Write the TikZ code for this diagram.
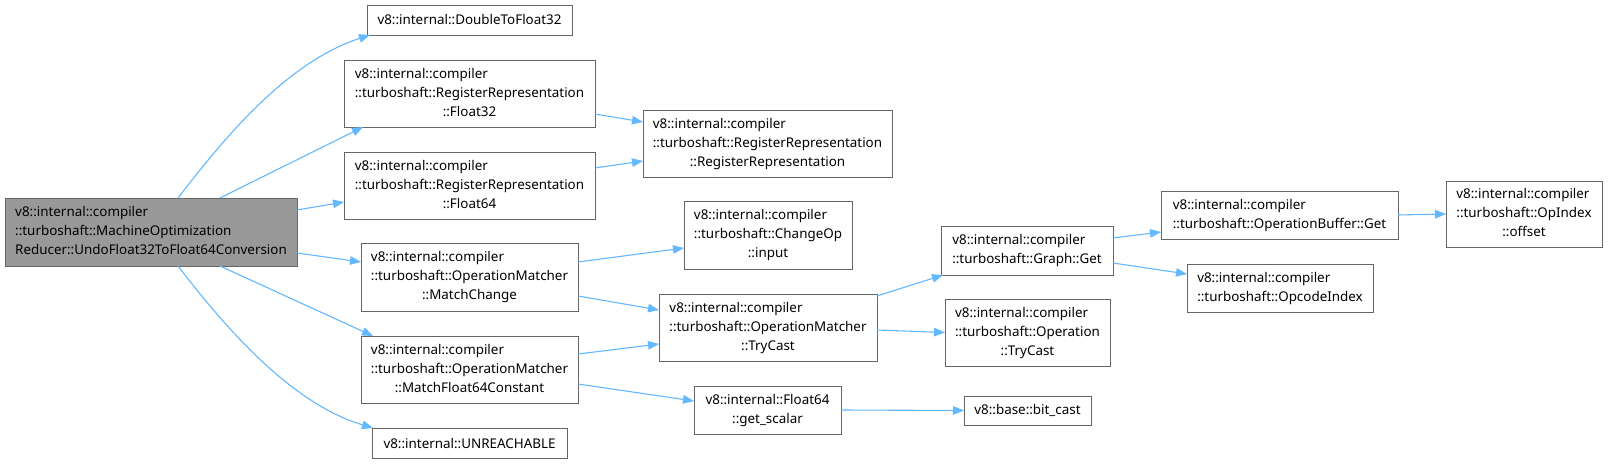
\documentclass[tikz,border=0pt]{standalone}
\usepackage{fontspec}
\setmainfont{Noto Sans}
\usetikzlibrary{arrows.meta,calc}
\definecolor{edgeblue}{HTML}{63B8FF}
\definecolor{boxline}{HTML}{666666}
\definecolor{mainfill}{HTML}{999999}
\newcommand\tlines[1]{\begin{tabular}{@{}l@{}}#1\end{tabular}}
\newcommand\cln[1]{\multicolumn{1}{@{}c@{}}{#1}}
\begin{document}
\begin{tikzpicture}[x=1pt,y=-1pt,
  fn/.style={draw=boxline,line width=1pt,fill=white,rectangle,inner sep=0pt,outer sep=0pt,
    font=\fontsize{13.4}{19}\selectfont,text=black},
  mainbox/.style={fn,fill=mainfill},
  edge/.style={draw=edgeblue,line width=1.1pt,-{Triangle[length=11pt,width=8.5pt]}}]
\useasboundingbox[fill=white] (0,0) rectangle (1608,463);

\node[mainbox,minimum width=292pt,minimum height=68pt] (main) at (151,232)
  {\tlines{v8::internal::compiler\\::turboshaft::MachineOptimization\\Reducer::UndoFloat32ToFloat64Conversion}};
\node[fn,minimum width=205pt,minimum height=30pt] (d2f) at (469.5,20) {v8::internal::DoubleToFloat32};
\node[fn,minimum width=251pt,minimum height=67pt] (f32) at (469.5,93.5)
  {\tlines{v8::internal::compiler\\::turboshaft::RegisterRepresentation\\\cln{::Float32}}};
\node[fn,minimum width=251pt,minimum height=67pt] (f64) at (469.5,185.5)
  {\tlines{v8::internal::compiler\\::turboshaft::RegisterRepresentation\\\cln{::Float64}}};
\node[fn,minimum width=249pt,minimum height=67pt] (rr) at (767.5,143.5)
  {\tlines{v8::internal::compiler\\::turboshaft::RegisterRepresentation\\\cln{::RegisterRepresentation}}};
\node[fn,minimum width=217pt,minimum height=68pt] (mc) at (469.5,277)
  {\tlines{v8::internal::compiler\\::turboshaft::OperationMatcher\\\cln{::MatchChange}}};
\node[fn,minimum width=217pt,minimum height=67pt] (mf) at (469.5,369.5)
  {\tlines{v8::internal::compiler\\::turboshaft::OperationMatcher\\\cln{::MatchFloat64Constant}}};
\node[fn,minimum width=195pt,minimum height=30pt] (un) at (469.5,443) {v8::internal::UNREACHABLE};
\node[fn,minimum width=168pt,minimum height=68pt] (ci) at (768,235)
  {\tlines{v8::internal::compiler\\::turboshaft::ChangeOp\\\cln{::input}}};
\node[fn,minimum width=218pt,minimum height=67pt] (tc) at (768,327.5)
  {\tlines{v8::internal::compiler\\::turboshaft::OperationMatcher\\\cln{::TryCast}}};
\node[fn,minimum width=147pt,minimum height=48pt] (gs) at (767.5,410)
  {\tlines{v8::internal::Float64\\\cln{::get\_scalar}}};
\node[fn,minimum width=172pt,minimum height=49pt] (gg) at (1027,250.5)
  {\tlines{v8::internal::compiler\\::turboshaft::Graph::Get}};
\node[fn,minimum width=165pt,minimum height=67pt] (ot) at (1027.5,333)
  {\tlines{v8::internal::compiler\\::turboshaft::Operation\\\cln{::TryCast}}};
\node[fn,minimum width=127pt,minimum height=29pt] (bc) at (1027.5,410.5) {v8::base::bit\_cast};
\node[fn,minimum width=237pt,minimum height=48pt] (ob) at (1279.5,215)
  {\tlines{v8::internal::compiler\\::turboshaft::OperationBuffer::Get}};
\node[fn,minimum width=186pt,minimum height=48pt] (oi) at (1280,288)
  {\tlines{v8::internal::compiler\\::turboshaft::OpcodeIndex}};
\node[fn,minimum width=156pt,minimum height=66pt] (ox) at (1524,214)
  {\tlines{v8::internal::compiler\\::turboshaft::OpIndex\\\cln{::offset}}};

% edges from main
\draw[edge] ($(main.north west)+(173,0)$) .. controls (225,137) and (287,62) .. ($(d2f.south west)+(3,0)$);
\draw[edge] ($(main.north west)+(215,0)$) -- ($(f32.south west)+(19,0)$);
\draw[edge] ($(main.north east)+(0,12)$) -- ($(f64.north west)+(0,50)$);
\draw[edge] ($(main.north east)+(0,55)$) -- ($(mc.north west)+(0,19)$);
\draw[edge] ($(main.south west)+(215,0)$) -- ($(mf.north west)+(12,0)$);
\draw[edge] ($(main.south west)+(173,0)$) .. controls (225,327) and (290,403) .. ($(un.north west)+(1,0)$);
% second level
\draw[edge] ($(f32.north east)+(0,54)$) -- ($(rr.north west)+(0,12)$);
\draw[edge] ($(f64.north east)+(0,16)$) -- ($(rr.north west)+(0,51)$);
\draw[edge] ($(mc.north east)+(0,19)$) -- ($(ci.north west)+(0,47)$);
\draw[edge] ($(mc.north east)+(0,53)$) -- ($(tc.north west)+(0,16)$);
\draw[edge] ($(mf.north east)+(0,18)$) -- ($(tc.north west)+(0,50)$);
\draw[edge] ($(mf.north east)+(0,48)$) -- ($(gs.north west)+(0,15)$);
% third level
\draw[edge] ($(tc.north east)+(0,2)$) -- ($(gg.south west)+(2,0)$);
\draw[edge] ($(tc.north east)+(0,36)$) -- ($(ot.north west)+(0,33)$);
\draw[edge] (gs.east) -- (bc.west);
% fourth level
\draw[edge] ($(gg.north east)+(0,12)$) -- ($(ob.north west)+(0,41)$);
\draw[edge] ($(gg.north east)+(0,37)$) -- ($(oi.north west)+(0,10)$);
\draw[edge] (ob.east) -- (ox.west);
\end{tikzpicture}
\end{document}
